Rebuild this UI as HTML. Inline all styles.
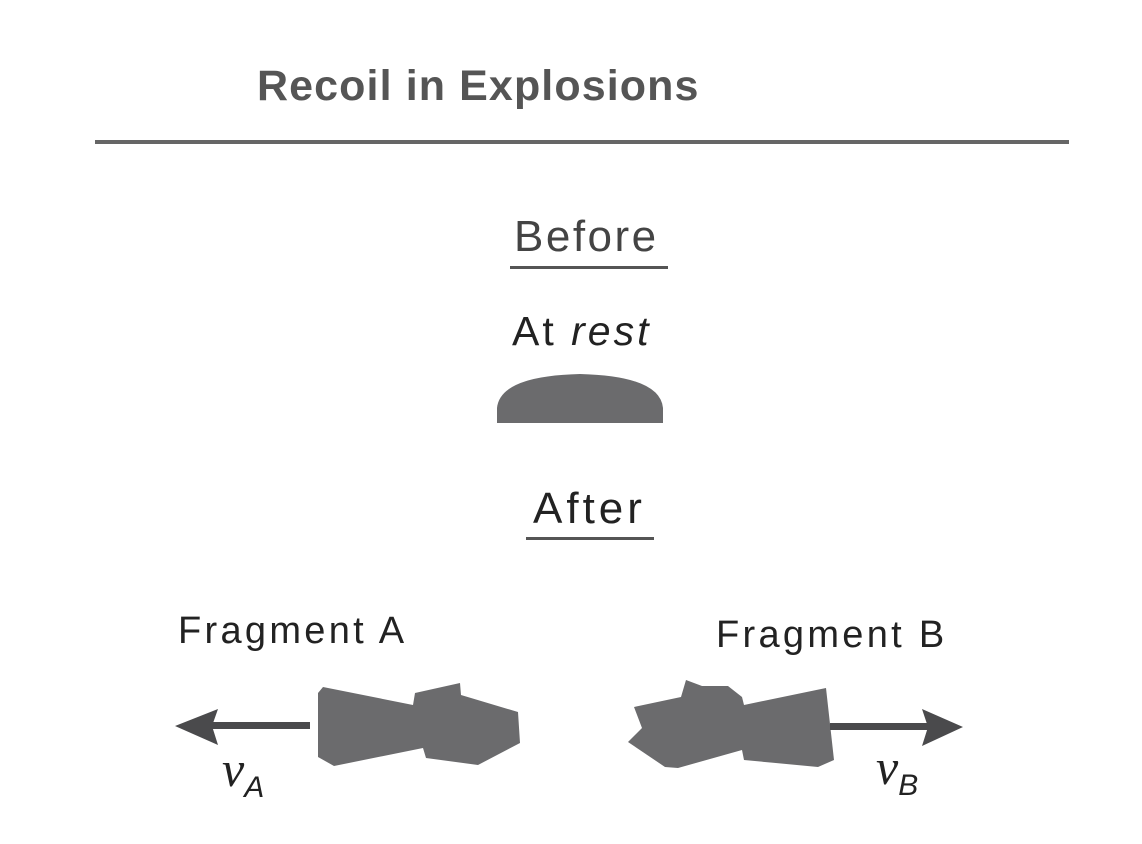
<!DOCTYPE html>
<html><head><style>
body{margin:0;background:#fff;}
.t{position:absolute;font-family:"Liberation Sans",sans-serif;color:#222;white-space:nowrap;}
</style></head><body>
<div style="position:relative;width:1142px;height:844px;overflow:hidden;">
<div class="t" style="left:257px;top:62px;font-size:43px;font-weight:bold;color:#555;letter-spacing:1.1px;">Recoil in Explosions</div>
<div style="position:absolute;left:95px;top:140px;width:974px;height:4px;background:#666;"></div>
<div class="t" style="left:514px;top:212px;font-size:44px;color:#444;letter-spacing:2.5px;">Before</div>
<div style="position:absolute;left:510px;top:266px;width:158px;height:3px;background:#555;"></div>
<div class="t" style="left:512px;top:308px;font-size:41px;letter-spacing:3px;">At <i>rest</i></div>
<svg style="position:absolute;left:0;top:0" width="1142" height="844">
<path d="M497,423 L497,408 Q500,376 580,374 Q660,376 663,408 L663,423 Z" fill="#6b6b6d"/>
<polygon fill="#6b6b6d" points="323,687 413,705 415,693 460,683 461,695 518,712 520,743 478,765 426,758 423,748 334,766 318,757 318,693"/>
<rect x="210" y="722" width="100" height="7" fill="#4a4a4c"/>
<polygon fill="#4a4a4c" points="175,726 218,709 212,726 218,745"/>
<polygon fill="#6b6b6d" points="634,707 681,697 686,680 702,686 728,686 742,697 744,705 826,688 834,760 818,767 744,760 742,750 678,768 665,767 628,742 642,728"/>
<rect x="830" y="723" width="98" height="7" fill="#4a4a4c"/>
<polygon fill="#4a4a4c" points="963,727 922,709 928,727 922,746"/>
</svg>
<div class="t" style="left:533px;top:484px;font-size:44px;letter-spacing:4px;">After</div>
<div style="position:absolute;left:526px;top:537px;width:128px;height:3px;background:#555;"></div>
<div class="t" style="left:178px;top:610px;font-size:38px;letter-spacing:3.3px;">Fragment A</div>
<div class="t" style="left:716px;top:614px;font-size:38px;letter-spacing:3.3px;">Fragment B</div>
<div class="t" style="left:222px;top:740px;font-size:50px;font-family:'Liberation Serif',serif;font-style:italic;">v<sub style="font-size:30px;font-family:'Liberation Sans',sans-serif;">A</sub></div>
<div class="t" style="left:876px;top:738px;font-size:50px;font-family:'Liberation Serif',serif;font-style:italic;">v<sub style="font-size:30px;font-family:'Liberation Sans',sans-serif;">B</sub></div>
</div>
</body></html>
